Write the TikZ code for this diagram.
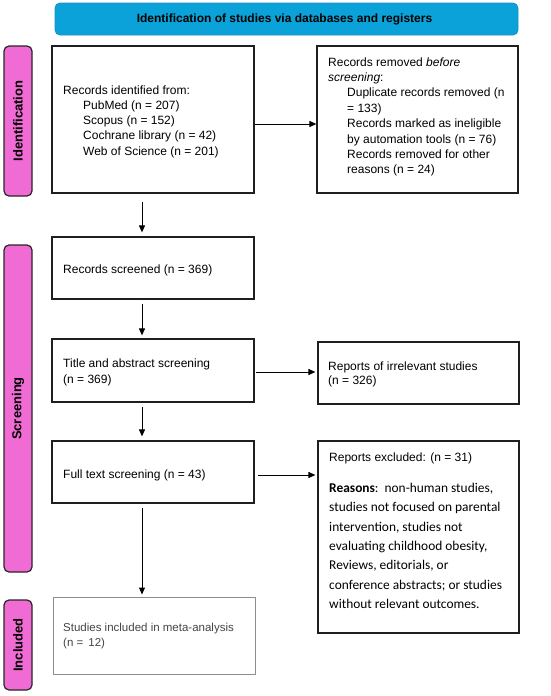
\documentclass[tikz,border=0pt]{standalone}
\usepackage{fontspec}
\setmainfont{Liberation Sans}
\newfontfamily\calib{Carlito}
\usetikzlibrary{arrows.meta}
\definecolor{bannerblue}{HTML}{0BA2D9}
\definecolor{bannerline}{HTML}{1C8FC0}
\definecolor{tabpink}{HTML}{F06CD4}
\definecolor{inclgrey}{HTML}{8C8C8C}
\definecolor{incltext}{HTML}{454545}
\begin{document}
\begin{tikzpicture}[x=1pt,y=-1pt,
  box/.style={draw=black!88, line width=1.2pt, fill=white, inner sep=0pt},
  inclbox/.style={draw=inclgrey, line width=1pt, fill=white, inner sep=0pt},
  tab/.style={draw=black!85, line width=1.2pt, fill=tabpink, rounded corners=5pt, minimum width=28pt, inner sep=0pt},
  tablabel/.style={rotate=90, font=\fontsize{13}{15}\selectfont\bfseries, inner sep=0pt},
  txt/.style={inner sep=0pt, align=left, font=\fontsize{12}{15.25}\selectfont},
  arr/.style={line width=1pt, -{Triangle[length=7pt,width=6pt]}}
]
\useasboundingbox (0,0) rectangle (550,696);

% banner
\node[draw=bannerline, line width=0.8pt, fill=bannerblue, rounded corners=5pt,
      minimum width=463pt, minimum height=32pt, inner sep=0pt] (banner) at (286.5,19) {};
\node[inner sep=0pt, font=\fontsize{12}{14}\selectfont\bfseries] (bannert) at (284.5,19.5)
  {Identification of studies via databases and registers};

% side tabs
\node[tab, minimum height=150pt] (tabid) at (18,121) {};
\node[tablabel] (tabidt) at (18,121) {Identification};
\node[tab, minimum height=327pt] (tabscr) at (18,408.5) {};
\node[tablabel] (tabscrt) at (18,408.5) {Screening};
\node[tab, minimum height=90pt] (tabinc) at (18,645) {};
\node[tablabel] (tabinct) at (18,645) {Included};

% boxes
\node[box, minimum width=202pt, minimum height=147pt] (id) at (153,119.5) {};
\node[box, minimum width=201pt, minimum height=147pt] (rem) at (417.5,119.5) {};
\node[box, minimum width=202pt, minimum height=62pt] (scr) at (153,268) {};
\node[box, minimum width=202pt, minimum height=63pt] (ta) at (153,370.5) {};
\node[box, minimum width=201pt, minimum height=62pt] (irr) at (418.5,373) {};
\node[box, minimum width=202pt, minimum height=62pt] (ft) at (153,472) {};
\node[box, minimum width=201pt, minimum height=192pt] (exc) at (418.5,537) {};
\node[inclbox, minimum width=202pt, minimum height=77pt] (inc) at (154,635.5) {};

% texts
\node[txt, anchor=west] (idt) at (63,121.4)
  {Records identified from:\\
   \hspace*{20pt}PubMed (n = 207)\\
   \hspace*{20pt}Scopus (n = 152)\\
   \hspace*{20pt}Cochrane library (n = 42)\\
   \hspace*{20pt}Web of Science (n = 201)};
\node[txt, anchor=west, font=\fontsize{12}{15.4}\selectfont] (remt) at (328,116.9)
  {Records removed \textit{before}\\
   \textit{screening}:\\
   \hspace*{19pt}Duplicate records removed (n\\
   \hspace*{19pt}= 133)\\
   \hspace*{19pt}Records marked as ineligible\\
   \hspace*{19pt}by automation tools (n = 76)\\
   \hspace*{19pt}Records removed for other\\
   \hspace*{19pt}reasons (n = 24)};
\node[txt, anchor=west] (scrt) at (63,269.9) {Records screened (n = 369)};
\node[txt, anchor=west] (tat) at (63,372.3) {Title and abstract screening\\(n = 369)};
\node[txt, anchor=west, font=\fontsize{12}{14.5}\selectfont] (irrt) at (328,374.5) {Reports of irrelevant studies\\(n = 326)};
\node[txt, anchor=west] (ftt) at (63,474.9) {Full text screening (n = 43)};
\node[txt, anchor=base west] (exct) at (329,461) {Reports excluded: (n = 31)};
\node[txt, anchor=west, font=\calib\fontsize{13.4}{19.4}\selectfont] (reat) at (329,545.8)
  {\textbf{Reasons}:\ \ non-human studies,\\
   studies not focused on parental\\
   intervention, studies not\\
   evaluating childhood obesity,\\
   Reviews, editorials, or\\
   conference abstracts; or studies\\
   without relevant outcomes.};
\node[txt, anchor=west, text=incltext, font=\fontsize{11.5}{15}\selectfont] (inct) at (63,636.5)
  {Studies included in meta-analysis\\(n =\, 12)};

% connectors
\draw[arr] ([yshift=-4.5pt]id.east) -- ([yshift=-4.5pt]rem.west);
\draw[arr] ([xshift=-11pt,yshift=-8pt]id.south) -- ([xshift=-11pt,yshift=4pt]scr.north);
\draw[arr] ([xshift=-11pt,yshift=-4pt]scr.south) -- ([xshift=-11pt,yshift=3pt]ta.north);
\draw[arr] ([xshift=1pt,yshift=-1.5pt]ta.east) -- ([xshift=-2pt,yshift=-1.5pt]ta.east -| irr.west);
\draw[arr] ([xshift=-11pt,yshift=-4pt]ta.south) -- ([xshift=-11pt,yshift=4pt]ft.north);
\draw[arr] ([xshift=3pt,yshift=-3pt]ft.east) -- ([xshift=-2pt,yshift=-3pt]ft.east -| exc.west);
\draw[arr] ([xshift=-11pt,yshift=-4pt]ft.south) -- ([xshift=-12pt,yshift=2pt]inc.north);
\end{tikzpicture}
\end{document}
